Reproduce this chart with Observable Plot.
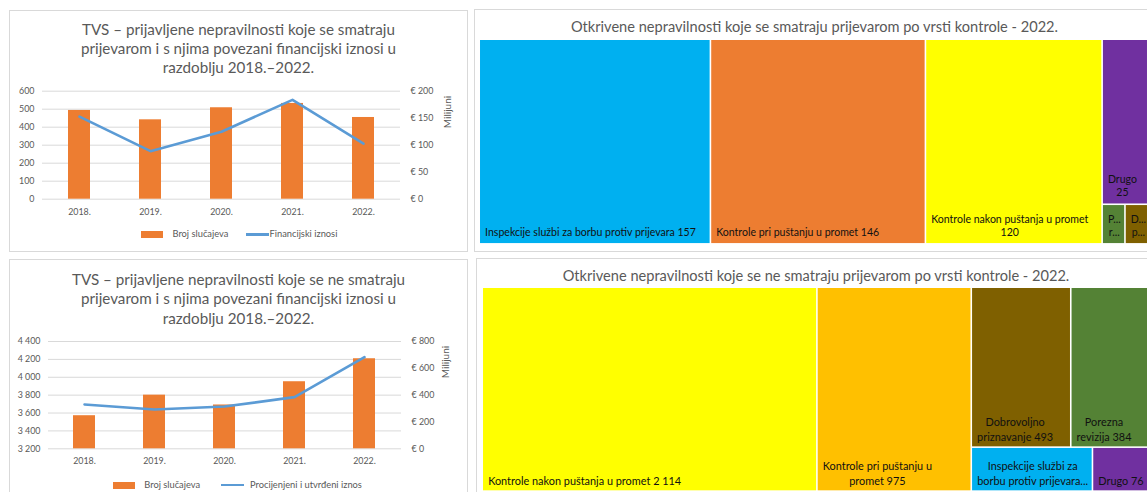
<!DOCTYPE html>
<html>
<head>
<meta charset="utf-8">
<script src="https://cdn.jsdelivr.net/npm/d3@7"></script>
<script src="https://cdn.jsdelivr.net/npm/@observablehq/plot@0.6"></script>
<style>
  html, body { margin:0; padding:0; background:#fff; }
  body { width:1147px; height:492px; overflow:hidden; position:relative; font-family: Lato, "Open Sans", sans-serif; }
  .panel { position:absolute; border:1px solid #d9d9d9; box-sizing:border-box; background:#fff; }
  .abs { position:absolute; }
  .title { position:absolute; color:#595959; text-align:center; white-space:pre; }
  .legtext { position:absolute; color:#595959; font-size:9.3px; white-space:pre; line-height:12px; }
</style>
</head>
<body>
<div class="panel" style="left:9px;top:10px;width:459px;height:242px"></div>
<div class="panel" style="left:9px;top:259px;width:459px;height:260px"></div>
<div class="panel" style="left:474px;top:9px;width:700px;height:243px"></div>
<div class="panel" style="left:476px;top:258px;width:700px;height:260px"></div>
<div id="root"></div>
<script>
// ---------- DATA ----------
const years = ["2018.", "2019.", "2020.", "2021.", "2022."];
// fraud irregularities (count) and related amounts (million €)
const fraudCases = [493, 441, 508, 532, 454];
const fraudAmounts = [153, 89, 125, 184, 103];
// non-fraud irregularities (count) and estimated/established amounts (million €)
const nonFraudCases = [3570, 3800, 3690, 3950, 4207];
const nonFraudAmounts = [330, 293, 315, 385, 683];

const chart1Title = "TVS – prijavljene nepravilnosti koje se smatraju\nprijevarom i s njima povezani financijski iznosi u\nrazdoblju 2018.–2022.";
const chart2Title = "TVS – prijavljene nepravilnosti koje se ne smatraju\nprijevarom i s njima povezani financijski iznosi u\nrazdoblju 2018.–2022.";
const legendBars = "Broj slučajeva";
const legendLine1 = "Financijski iznosi";
const legendLine2 = "Procijenjeni i utvrđeni iznos";
const axisUnit = "Milijuni";

const left1Ticks = [0, 100, 200, 300, 400, 500, 600];
const right1Ticks = [0, 50, 100, 150, 200];
const left2Ticks = [3200, 3400, 3600, 3800, 4000, 4200, 4400];
const right2Ticks = [0, 200, 400, 600, 800];

// treemaps 2022
const tm1Title = "Otkrivene nepravilnosti koje se smatraju prijevarom po vrsti kontrole - 2022.";
const tm1Names = ["Inspekcije službi za borbu protiv prijevara", "Kontrole pri puštanju u promet", "Kontrole nakon puštanja u promet", "Drugo", "Porezna revizija", "Dobrovoljno priznavanje"];
const tm1Values = [157, 146, 120, 25, 3, 3];
const tm2Title = "Otkrivene nepravilnosti koje se ne smatraju prijevarom po vrsti kontrole - 2022.";
const tm2Names = ["Kontrole nakon puštanja u promet", "Kontrole pri puštanju u promet", "Dobrovoljno priznavanje", "Porezna revizija", "Inspekcije službi za borbu protiv prijevara", "Drugo"];
const tm2Values = [2114, 975, 493, 384, 165, 76];

// ---------- STYLE ----------
const FONT = "Lato, 'Open Sans', sans-serif";
const BAR = "#ED7D31", LINE = "#5B9BD5", GRID = "#d9d9d9", TXT = "#595959";
const tm1Colors = {domain: tm1Names, range: ["#00B0F0", "#ED7D31", "#FFFF00", "#7030A0", "#548235", "#7F6000"]};
const tm2Colors = {domain: tm2Names, range: ["#FFFF00", "#FFC000", "#7F6000", "#548235", "#00B0F0", "#7030A0"]};

const root = document.getElementById("root");
function place(node, left, top) {
  const d = document.createElement("div");
  d.className = "abs"; d.style.left = left + "px"; d.style.top = top + "px";
  d.appendChild(node); root.appendChild(d); return d;
}
function addTitle(text, cx, top, size, lh, w) {
  const d = document.createElement("div");
  d.className = "title"; d.textContent = text;
  d.style.left = (cx - w / 2) + "px"; d.style.width = w + "px"; d.style.top = top + "px";
  d.style.fontSize = size + "px"; d.style.lineHeight = lh + "px";
  root.appendChild(d);
}
function addLegend(top, sw, txt1x, ln, txt2x, label2) {
  const s = document.createElement("div");
  s.className = "abs"; Object.assign(s.style, {left: sw[0] + "px", top: (top - 3.5) + "px", width: (sw[1] - sw[0]) + "px", height: "7px", background: BAR});
  root.appendChild(s);
  const l = document.createElement("div");
  l.className = "abs"; Object.assign(l.style, {left: ln[0] + "px", top: (top - 1.25) + "px", width: (ln[1] - ln[0]) + "px", height: "2.5px", background: LINE});
  root.appendChild(l);
  for (const [x, t] of [[txt1x, legendBars], [txt2x, label2]]) {
    const e = document.createElement("div");
    e.className = "legtext"; e.textContent = t;
    e.style.left = x + "px"; e.style.top = (top - 6.5) + "px";
    root.appendChild(e);
  }
}
function addUnit(cx, cy) {
  const e = document.createElement("div");
  e.className = "legtext"; e.textContent = axisUnit;
  Object.assign(e.style, {left: (cx - 30) + "px", top: (cy - 6) + "px", width: "60px", textAlign: "center", fontSize: "10px", transform: "rotate(-90deg)"});
  root.appendChild(e);
}

// ---------- COMBO CHARTS ----------
function combo({cases, amounts, leftTicks, rightTicks, leftFmt, width, height, margins, padInner}) {
  const [lo, hi] = [leftTicks[0], leftTicks[leftTicks.length - 1]];
  const k = (hi - lo) / rightTicks[rightTicks.length - 1];
  const data = years.map((y, i) => ({year: y, cases: cases[i], amount: amounts[i]}));
  return Plot.plot({
    width, height, ...margins,
    style: {fontFamily: FONT, fontSize: "8.9px", color: TXT, background: "transparent", overflow: "visible"},
    x: {domain: years, paddingInner: padInner, paddingOuter: padInner / 2, label: null},
    y: {domain: [lo, hi], label: null},
    marks: [
      Plot.gridY(leftTicks, {stroke: GRID, strokeOpacity: 1}),
      Plot.axisY(leftTicks, {tickSize: 0, tickPadding: 8, tickFormat: leftFmt, label: null}),
      Plot.axisY(rightTicks, {y: d => lo + d * k, anchor: "right", tickSize: 0, tickPadding: 10, tickFormat: d => "€ " + d, label: null}),
      Plot.axisX({tickSize: 0, tickPadding: 9, label: null}),
      Plot.barY(data, {x: "year", y1: lo, y2: "cases", fill: BAR}),
      Plot.line(data, {x: "year", y: d => lo + d.amount * k, stroke: LINE, strokeWidth: 2.6})
    ]
  });
}
const spaceFmt = d => d3.format(",")(d).replace(/,/g, " ");

addTitle(chart1Title, 238.5, 19.5, 15.2, 19.3, 440);
place(combo({cases: fraudCases, amounts: fraudAmounts, leftTicks: left1Ticks, rightTicks: right1Ticks,
  leftFmt: d => String(d), width: 457, height: 145,
  margins: {marginTop: 10.7, marginBottom: 26.3, marginLeft: 32, marginRight: 67}, padInner: 0.69}), 10, 80);
addLegend(234.5, [141, 163], 172.5, [245.5, 268.5], 269.5, legendLine1);
addUnit(447, 111.5);

addTitle(chart2Title, 238.5, 270, 15.2, 19.3, 440);
place(combo({cases: nonFraudCases, amounts: nonFraudAmounts, leftTicks: left2Ticks, rightTicks: right2Ticks,
  leftFmt: spaceFmt, width: 457, height: 145,
  margins: {marginTop: 11, marginBottom: 26.7, marginLeft: 38, marginRight: 66}, padInner: 0.68}), 10, 330);
addLegend(485, [113, 135], 144.3, [221, 244.3], 250, legendLine2);
addUnit(445, 361.5);

// ---------- TREEMAPS ----------
const RATIO = 1.3;
// squarified tiling (d3.treemapSquarify algorithm); the last row is split along its longer side
function excelTile(parent, x0, y0, x1, y1) {
  const nodes = parent.children, n = nodes.length;
  let value = parent.value, i0 = 0, i1 = 0;
  while (i0 < n) {
    const dx = x1 - x0, dy = y1 - y0;
    let sum = nodes[i1++].value, minV = sum, maxV = sum;
    const alpha = Math.max(dy / dx, dx / dy) / (value * RATIO);
    let beta = sum * sum * alpha;
    let minRatio = Math.max(maxV / beta, beta / minV);
    for (; i1 < n; ++i1) {
      const v = nodes[i1].value;
      sum += v; if (v < minV) minV = v; if (v > maxV) maxV = v;
      beta = sum * sum * alpha;
      const r = Math.max(maxV / beta, beta / minV);
      if (r > minRatio) { sum -= v; break; }
      minRatio = r;
    }
    const row = {value: sum, children: nodes.slice(i0, i1)};
    let dice = dx < dy;
    if (i1 === n && row.children.length > 1) dice = dx >= dy;
    if (dice) { const ny = dy ? y0 + dy * sum / value : y1; d3.treemapDice(row, x0, y0, x1, ny); y0 = ny; }
    else { const nx = dx ? x0 + dx * sum / value : x1; d3.treemapSlice(row, x0, y0, nx, y1); x0 = nx; }
    value -= sum; i0 = i1;
  }
}
const ctx = document.createElement("canvas").getContext("2d");
const tw = (s, font) => { ctx.font = font; return ctx.measureText(s).width; };
const nbFmt = v => d3.format(",")(v).replace(/,/g, "\u00a0");
function labelLines(text, w, h, o) {
  const words = text.split(" ");
  const avail = w - o.pad - 2.5;
  const lines = []; let line = "";
  for (const word of words) {
    const t = line ? line + " " + word : word;
    if (!line || tw(t, o.font) <= avail) line = t; else { lines.push(line); line = word; }
  }
  if (line) lines.push(line);
  const maxLines = Math.max(1, Math.floor((h - 6) / o.pitch));
  if (lines.length > maxLines) { const rest = lines.slice(maxLines - 1).join(" "); lines.length = maxLines - 1; lines.push(rest); }
  return lines.map(l => {
    if (tw(l, o.font) <= avail) return l;
    let s = l;
    while (s.length > 1 && tw(s + "...", o.font) > avail) s = s.slice(0, -1);
    return s.trimEnd() + "...";
  });
}
function treemap(names, values, colors, W, H, o) {
  const rootNode = d3.hierarchy({children: names.map((name, i) => ({name, value: values[i]}))})
    .sum(d => d.value || 0).sort((a, b) => b.value - a.value);
  d3.treemap().size([W, H]).tile(excelTile).paddingInner(1.6)(rootNode);
  const leaves = rootNode.leaves();
  const labels = [];
  for (const lf of leaves) {
    const lines = labelLines(lf.data.name + " " + nbFmt(lf.data.value), lf.x1 - lf.x0, lf.y1 - lf.y0, o);
    const bw = d3.max(lines, l => tw(l, o.font));
    lines.forEach((t, i) => labels.push({text: t, x: lf.x0 + o.pad + bw / 2, y: lf.y1 - o.bottom - (lines.length - 1 - i) * o.pitch}));
  }
  return Plot.plot({
    width: W, height: H, margin: 0,
    style: {fontFamily: FONT, background: "transparent", overflow: "visible"},
    x: {type: "identity", axis: null}, y: {type: "identity", axis: null}, color: colors,
    marks: [
      Plot.rect(leaves, {x1: "x0", x2: "x1", y1: "y0", y2: "y1", fill: d => d.data.name}),
      Plot.text(labels, {x: "x", y: "y", text: "text", fill: "#111", fontSize: o.size, fontFamily: FONT})
    ]
  });
}
addTitle(tm1Title, 814.5, 17, 14.6, 19, 640);
place(treemap(tm1Names, tm1Values, tm1Colors, 670, 204,
  {pad: 4.5, pitch: 13.3, bottom: 11, size: 10.6, font: "10.6px Lato"}), 480, 40);
addTitle(tm2Title, 816, 266, 14.6, 19, 640);
place(treemap(tm2Names, tm2Values, tm2Colors, 670, 204,
  {pad: 4.5, pitch: 15.5, bottom: 9.5, size: 11, font: "11px Lato"}), 482.5, 288.3);
</script>
</body>
</html>
